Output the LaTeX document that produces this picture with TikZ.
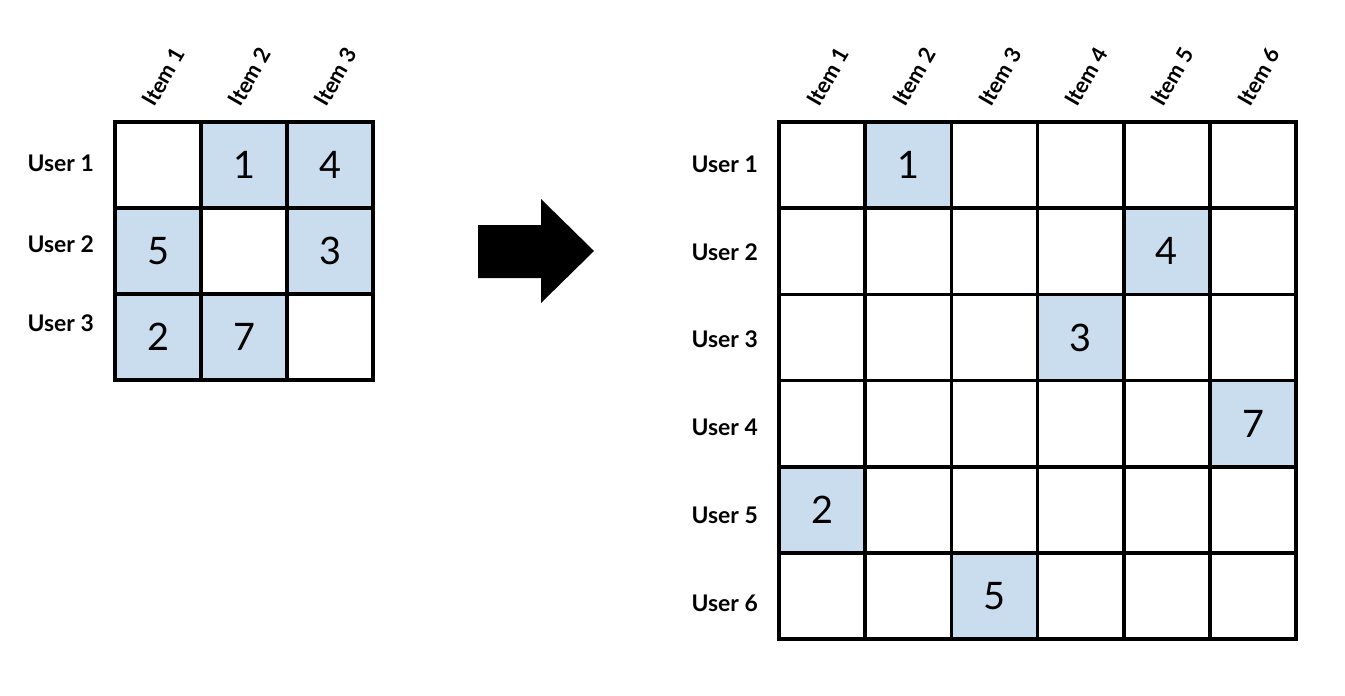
\documentclass[tikz,border=0pt]{standalone}
\usepackage{fontspec}
\setmainfont{Lato}
\definecolor{cellblue}{HTML}{C9DDEE}
\tikzset{
  cell/.style = {draw, line width=3.5bp, minimum size=86bp, inner sep=0pt, font=\fontsize{38}{40}\selectfont},
  full/.style = {cell, fill=cellblue},
  rowlab/.style = {anchor=east, inner sep=0pt, font=\bfseries\fontsize{23}{25}\selectfont},
  collab/.style = {anchor=west, inner sep=0pt, rotate=60, font=\bfseries\fontsize{22}{24}\selectfont}
}
\begin{document}
\begin{tikzpicture}[x=1bp, y=-1bp]
\useasboundingbox (0,0) rectangle (1345,695);
% left matrix
\foreach \r/\c/\v in {1/1/, 1/2/1, 1/3/4, 2/1/5, 2/2/, 2/3/3, 3/1/2, 3/2/7, 3/3/} {
  \ifx\v\empty
    \node[cell] (L-\r-\c) at ({115+86*(\c-0.5)}, {122+86*(\r-0.5)}) {};
  \else
    \node[full] (L-\r-\c) at ({115+86*(\c-0.5)}, {122+86*(\r-0.5)}) {\v};
  \fi
}
\foreach \r/\y in {1/163, 2/244, 3/323}
  \node[rowlab] (LU-\r) at (94,\y) {User \r};
\foreach \c in {1,2,3}
  \node[collab] (LI-\c) at ({115+86*(\c-0.5)-10}, 104) {Item \c};
% arrow
\fill (478,225) -- (541,225) -- (541,199) -- (594,251) -- (541,303) -- (541,278) -- (478,278) -- cycle;
% right matrix
\foreach \r in {1,...,6}
  \foreach \c in {1,...,6}
    \node[cell] (R-\r-\c) at ({779+86.2*(\c-0.5)}, {122+86.2*(\r-0.5)}) {};
\foreach \r/\c/\v in {1/2/1, 2/5/4, 3/4/3, 4/6/7, 5/1/2, 6/3/5}
  \node[full] at (R-\r-\c) {\v};
\foreach \r in {1,...,6}
  \node[rowlab] (RU-\r) at (758, {164+87.8*(\r-1)}) {User \r};
\foreach \c in {1,...,6}
  \node[collab] (RI-\c) at ({779+86.2*(\c-0.5)-10}, 104) {Item \c};
\end{tikzpicture}
\end{document}
